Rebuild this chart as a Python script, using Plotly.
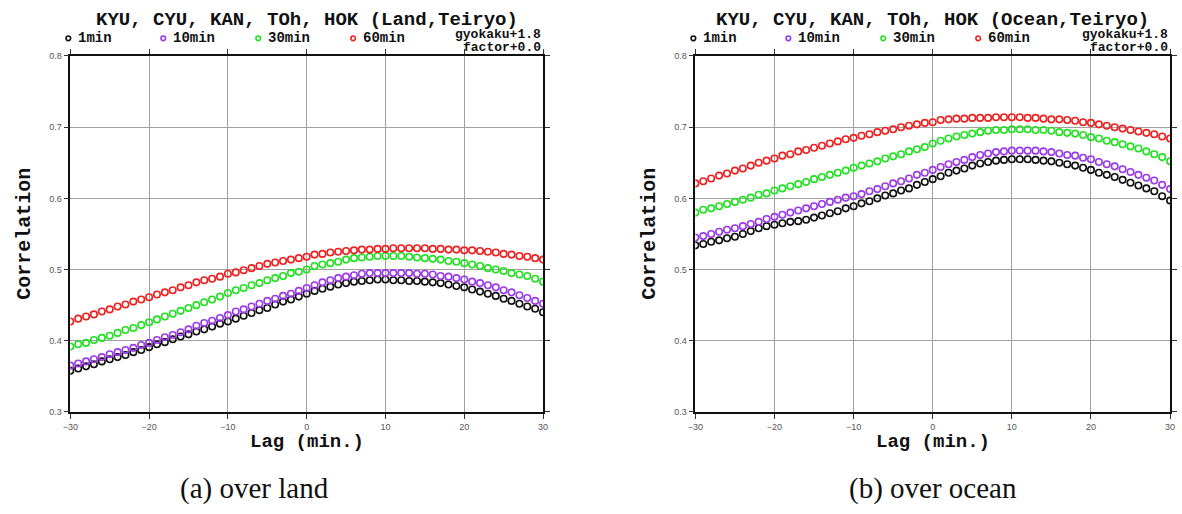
import plotly.graph_objects as go

W, H = 1182, 514

LAGS = list(range(-30, 31))
SERIES_NAMES = ["1min", "10min", "30min", "60min"]
SERIES_COLORS = ["#111111", "#9b3be8", "#22e022", "#ee2020"]

# ---- over land ----
land_1min = [.358, .361, .364, .367, .371, .374, .377, .380, .384, .387, .391, .395, .398, .402, .406, .409,
             .413, .416, .420, .424, .427, .431, .435, .439, .443, .446, .451, .455, .458, .462, .466,
             .470, .473, .476, .479, .481, .483, .484, .485, .486, .486, .485, .485, .484, .484, .483,
             .482, .481, .479, .477, .475, .472, .469, .466, .463, .459, .456, .452, .448, .445, .440]
land_10min = [.365, .368, .371, .374, .377, .381, .384, .387, .390, .394, .397, .401, .405, .408, .412, .416,
              .421, .425, .428, .432, .436, .441, .444, .448, .452, .456, .459, .463, .466, .470, .474,
              .478, .482, .485, .488, .490, .492, .494, .495, .495, .495, .495, .495, .495, .494, .494,
              .493, .491, .490, .488, .486, .483, .481, .478, .475, .471, .468, .464, .460, .456, .452]
land_30min = [.392, .395, .397, .401, .404, .407, .411, .415, .418, .422, .426, .430, .434, .438, .442, .446,
              .450, .454, .458, .462, .467, .471, .474, .478, .481, .485, .488, .491, .495, .497, .500,
              .505, .507, .509, .511, .514, .516, .517, .518, .519, .519, .519, .519, .518, .517, .516,
              .515, .514, .512, .511, .509, .507, .505, .502, .500, .498, .495, .493, .491, .487, .483]
land_60min = [.427, .431, .434, .437, .441, .444, .448, .451, .455, .458, .461, .465, .468, .471, .475, .478,
              .482, .485, .487, .490, .494, .496, .499, .502, .505, .508, .510, .512, .514, .516, .518,
              .521, .522, .524, .525, .526, .527, .528, .528, .529, .529, .530, .530, .530, .530, .530,
              .529, .529, .528, .528, .527, .527, .526, .525, .524, .522, .521, .519, .518, .516, .514]

# ---- over ocean ----
ocean_1min = [.534, .536, .539, .541, .544, .546, .550, .554, .558, .561, .563, .565, .567, .568, .570, .573,
              .576, .579, .582, .586, .589, .593, .596, .600, .604, .607, .611, .614, .619, .623, .627,
              .631, .636, .639, .642, .646, .649, .651, .653, .654, .655, .655, .655, .654, .653, .652,
              .650, .648, .646, .643, .640, .636, .633, .630, .626, .622, .618, .614, .610, .603, .597]
ocean_10min = [.545, .547, .550, .553, .556, .558, .561, .564, .567, .571, .574, .577, .580, .583, .586, .589,
               .592, .595, .598, .601, .603, .606, .610, .613, .617, .621, .624, .628, .633, .636, .640,
               .644, .648, .651, .654, .658, .661, .663, .665, .666, .667, .667, .667, .667, .666, .665,
               .663, .661, .660, .657, .655, .651, .648, .645, .641, .637, .633, .629, .625, .619, .613]
ocean_30min = [.580, .584, .586, .589, .592, .595, .598, .601, .605, .607, .611, .614, .617, .620, .623, .627,
               .630, .633, .636, .639, .643, .646, .649, .652, .656, .659, .662, .666, .669, .672, .677,
               .681, .684, .687, .689, .691, .693, .695, .696, .696, .697, .697, .697, .696, .696, .695,
               .693, .692, .691, .689, .686, .684, .681, .679, .676, .673, .670, .666, .662, .658, .652]
ocean_60min = [.621, .624, .628, .632, .635, .639, .642, .646, .650, .653, .656, .660, .662, .666, .668, .671,
               .674, .677, .680, .683, .685, .688, .690, .693, .695, .697, .700, .702, .704, .706, .707,
               .710, .711, .712, .712, .713, .713, .713, .714, .714, .714, .714, .713, .713, .712, .711,
               .711, .710, .709, .707, .706, .704, .702, .700, .698, .696, .694, .692, .690, .687, .684]

LAND = [land_1min, land_10min, land_30min, land_60min]
OCEAN = [ocean_1min, ocean_10min, ocean_30min, ocean_60min]

TITLES = ["KYU, CYU, KAN, TOh, HOK (Land,Teiryo)", "KYU, CYU, KAN, TOh, HOK (Ocean,Teiryo)"]
CAPTIONS = ["(a) over land", "(b) over ocean"]
X_TICKS = [-30, -20, -10, 0, 10, 20, 30]
X_TICK_TEXT = ["\u221230", "\u221220", "\u221210", "0", "10", "20", "30"]
Y_TICKS = [0.3, 0.4, 0.5, 0.6, 0.7, 0.8]
Y_TICK_TEXT = ["0.3", "0.4", "0.5", "0.6", "0.7", "0.8"]

# layout in page pixels
PANELS = [(63, 541), (695, 1175)]
TOP, BOTTOM = 52, 415
CAPTION_X = [249, 935]

MONO = "Liberation Mono, Courier New, monospace"
SANS = "Liberation Sans, Arial, sans-serif"
SERIF = "Liberation Serif, Times New Roman, serif"


def px(x):
    return x / W


def py(y):
    return 1 - y / H


fig = go.Figure()

for pi, data in enumerate([LAND, OCEAN]):
    suffix = "" if pi == 0 else "2"
    for name, color, vals in zip(SERIES_NAMES, SERIES_COLORS, data):
        fig.add_trace(go.Scatter(
            x=LAGS, y=vals, mode="markers", name=name, showlegend=False,
            xaxis="x" + suffix, yaxis="y" + suffix,
            marker=dict(symbol="circle-open", size=6.5, color=color, line=dict(width=1.6, color=color)),
            hoverinfo="x+y",
        ))

axis_common = dict(
    showline=True, linecolor="#111", linewidth=1.6, mirror="ticks",
    ticks="outside", ticklen=5, tickcolor="#333", tickwidth=1,
    showgrid=True, gridcolor="#a0a0a0", gridwidth=1, zeroline=False,
    tickfont=dict(family=SANS, size=9, color="#555"),
)

layout = dict(
    width=W, height=H,
    margin=dict(l=0, r=0, t=0, b=0),
    paper_bgcolor="white", plot_bgcolor="white",
    showlegend=False,
)

for pi, (x0, x1) in enumerate(PANELS):
    suffix = "" if pi == 0 else "2"
    layout["xaxis" + suffix] = dict(
        axis_common, domain=[px(x0), px(x1)], range=[-30, 30],
        tickvals=X_TICKS, ticktext=X_TICK_TEXT, anchor="y" + suffix,
    )
    layout["yaxis" + suffix] = dict(
        axis_common, domain=[py(BOTTOM), py(TOP)], range=[0.3, 0.8],
        tickvals=Y_TICKS, ticktext=Y_TICK_TEXT, anchor="x" + suffix,
    )

fig.update_layout(**layout)

annotations = []
shapes = []
for pi, (x0, x1) in enumerate(PANELS):
    cx = (x0 + x1) / 2
    annotations.append(dict(
        text="<b>%s</b>" % TITLES[pi], x=px(cx), y=py(15), xref="paper", yref="paper",
        xanchor="center", yanchor="middle", showarrow=False,
        font=dict(family=MONO, size=19, color="#111"),
    ))
    for k, (name, color) in enumerate(zip(SERIES_NAMES, SERIES_COLORS)):
        mx = x0 - 2 + k * 96
        shapes.append(dict(
            type="circle", xref="paper", yref="paper", xsizemode="pixel", ysizemode="pixel",
            xanchor=px(mx), yanchor=py(34), x0=-2.3, x1=2.3, y0=-2.3, y1=2.3,
            line=dict(color=color, width=1.6),
        ))
        annotations.append(dict(
            text="<b>%s</b>" % name, x=px(mx + 8), y=py(34), xref="paper", yref="paper",
            xanchor="left", yanchor="middle", showarrow=False,
            font=dict(family=MONO, size=14, color="#111"),
        ))
    annotations.append(dict(
        text="<b>gyokaku+1.8</b>", x=px(x1), y=py(30.5), xref="paper", yref="paper",
        xanchor="right", yanchor="middle", showarrow=False,
        font=dict(family=MONO, size=13, color="#111"),
    ))
    annotations.append(dict(
        text="<b>factor+0.0</b>", x=px(x1), y=py(43), xref="paper", yref="paper",
        xanchor="right", yanchor="middle", showarrow=False,
        font=dict(family=MONO, size=13, color="#111"),
    ))
    annotations.append(dict(
        text="<b>Lag (min.)</b>", x=px(cx), y=py(446), xref="paper", yref="paper",
        xanchor="center", yanchor="middle", showarrow=False,
        font=dict(family=MONO, size=19, color="#111"),
    ))
    annotations.append(dict(
        text="<b>Correlation</b>", x=px(x0 - 46), y=py((TOP + BOTTOM) / 2), xref="paper", yref="paper",
        xanchor="center", yanchor="middle", showarrow=False, textangle=-90,
        font=dict(family=MONO, size=20, color="#111"),
    ))
    annotations.append(dict(
        text=CAPTIONS[pi], x=px(CAPTION_X[pi]), y=py(493), xref="paper", yref="paper",
        xanchor="center", yanchor="middle", showarrow=False,
        font=dict(family=SERIF, size=29, color="#111"),
    ))

fig.update_layout(annotations=annotations, shapes=shapes)
# remove the browser's default 8 px body margin so the figure fills the window exactly
fig.write_html(
    "out.html",
    config={"displayModeBar": False},
    post_script="document.body.style.margin='0';document.body.style.overflow='hidden';",
)
